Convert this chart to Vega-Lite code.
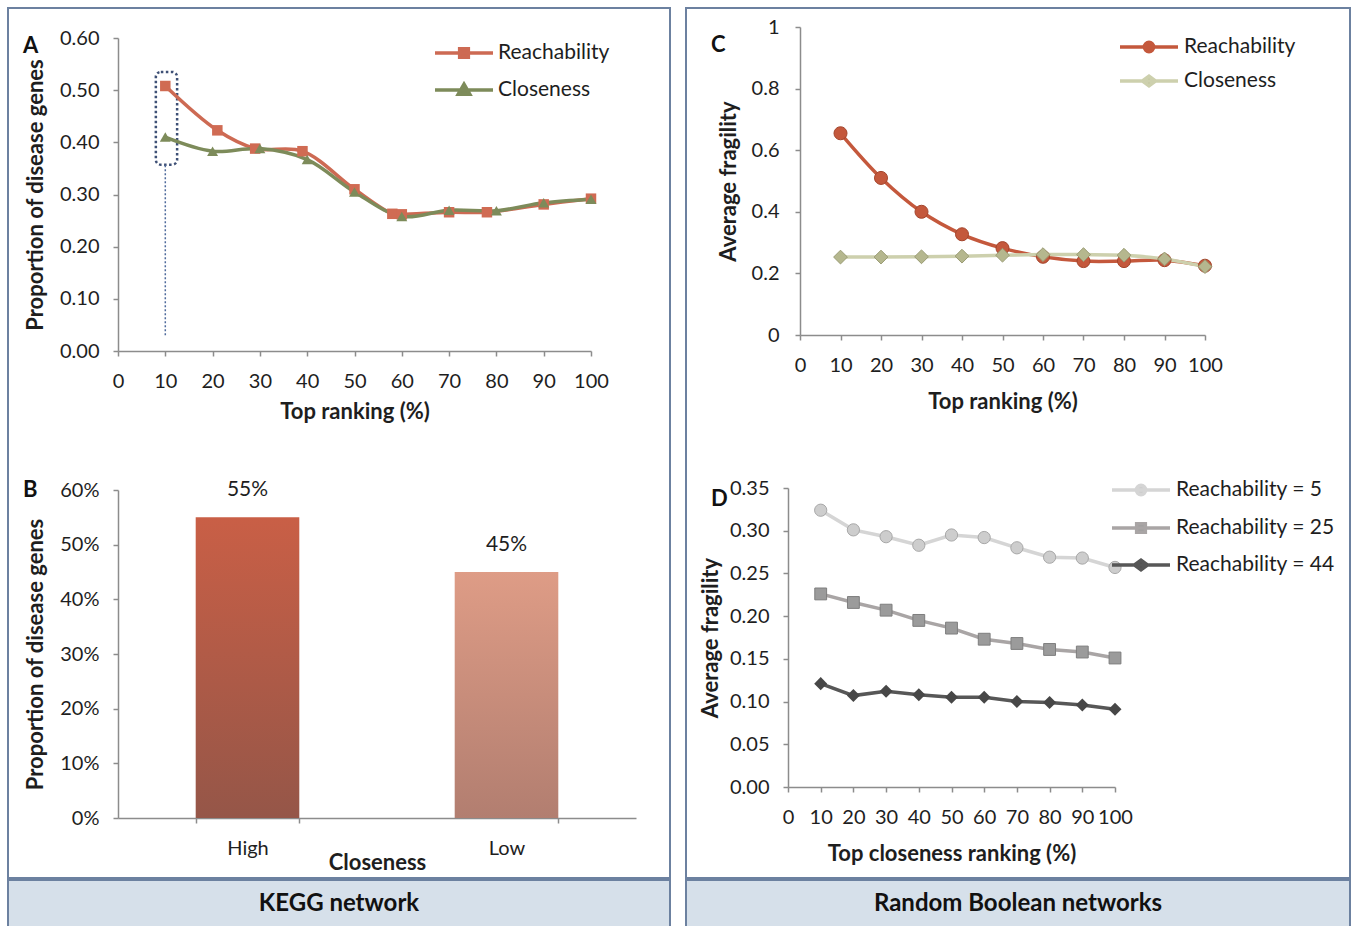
{
  "$schema": "https://vega.github.io/schema/vega-lite/v6.json",
  "padding": {"left": 7, "top": 7, "right": 0, "bottom": 0},
  "autosize": {"type": "pad"},
  "background": "white",
  "config": {
    "font": "Lato",
    "view": {"stroke": null},
    "axis": {"grid": false, "labelFont": "Lato", "labelFontSize": 20, "labelColor": "#1e1e1e", "titleFont": "Lato", "titleFontSize": 22, "titleFontWeight": "bold", "titleColor": "#1e1e1e", "domainColor": "#8c8c8c", "domainWidth": 1.5, "tickColor": "#8c8c8c", "tickWidth": 1.5, "tickSize": 5, "labelFlush": false, "labelOverlap": false, "labelPadding": 15},
    "legend": {"labelFont": "Lato", "labelFontSize": 21, "labelColor": "#1e1e1e", "padding": 0, "symbolSize": 841, "symbolStrokeWidth": 3.5, "symbolOpacity": 1}
  },
  "spacing": 14,
  "hconcat": [
    {
      "spacing": 0,
      "vconcat": [
        {
          "width": 662,
          "height": 870,
          "view": {"stroke": "#6c81a0", "strokeWidth": 2},
          "title": {"text": ["A", "B"], "lineHeight": 444, "anchor": "start", "frame": "group", "orient": "top", "baseline": "top", "offset": -494, "dx": 15, "fontSize": 22, "fontWeight": "bold", "font": "Lato", "color": "#111111"},
          "resolve": {"scale": {"x": "independent", "y": "independent", "color": "independent", "fill": "independent", "stroke": "independent", "shape": "independent"}, "axis": {"x": "independent", "y": "independent"}},
          "layer": [
            {
              "data": {"values": [
                {"rank": 10, "series": "Reachability", "value": 0.508},
                {"rank": 21, "series": "Reachability", "value": 0.423},
                {"rank": 29, "series": "Reachability", "value": 0.388},
                {"rank": 39, "series": "Reachability", "value": 0.383},
                {"rank": 50, "series": "Reachability", "value": 0.31},
                {"rank": 58, "series": "Reachability", "value": 0.263},
                {"rank": 60, "series": "Reachability", "value": 0.262},
                {"rank": 70, "series": "Reachability", "value": 0.266},
                {"rank": 78, "series": "Reachability", "value": 0.266},
                {"rank": 90, "series": "Reachability", "value": 0.281},
                {"rank": 100, "series": "Reachability", "value": 0.292},
                {"rank": 10, "series": "Closeness", "value": 0.41},
                {"rank": 20, "series": "Closeness", "value": 0.383},
                {"rank": 30, "series": "Closeness", "value": 0.388},
                {"rank": 40, "series": "Closeness", "value": 0.367},
                {"rank": 50, "series": "Closeness", "value": 0.305},
                {"rank": 60, "series": "Closeness", "value": 0.258},
                {"rank": 70, "series": "Closeness", "value": 0.27},
                {"rank": 80, "series": "Closeness", "value": 0.269},
                {"rank": 90, "series": "Closeness", "value": 0.284},
                {"rank": 100, "series": "Closeness", "value": 0.291}
              ]},
              "layer": [
                {
                  "data": {"values": [{"rank": 8.0, "rank2": 12.5, "value": 0.357, "value2": 0.535}]},
                  "mark": {"type": "rect", "filled": false, "color": "#3e5076", "strokeWidth": 2.5, "strokeDash": [2.5, 2.5], "cornerRadius": 5},
                  "encoding": {
                    "x": {"field": "rank", "type": "quantitative", "title": "Top ranking (%)"},
                    "x2": {"field": "rank2"},
                    "y": {"field": "value", "type": "quantitative", "title": "Proportion of disease genes"},
                    "y2": {"field": "value2"}
                  }
                },
                {
                  "data": {"values": [{"rank": 10, "value": 0.03, "value2": 0.357}]},
                  "mark": {"type": "rule", "color": "#4f6b9c", "strokeWidth": 1.5, "strokeDash": [2, 2]},
                  "encoding": {
                    "x": {"field": "rank", "type": "quantitative", "title": "Top ranking (%)"},
                    "y": {"field": "value", "type": "quantitative", "title": "Proportion of disease genes"},
                    "y2": {"field": "value2"}
                  }
                },
                {
                  "mark": {"type": "line", "interpolate": "catmull-rom", "strokeWidth": 3.5},
                  "encoding": {
                    "x": {"field": "rank", "type": "quantitative", "title": "Top ranking (%)",
                      "scale": {"domain": [0, 100], "range": [110, 583], "nice": false, "zero": false},
                      "axis": {"orient": "bottom", "offset": -527, "values": [0, 10, 20, 30, 40, 50, 60, 70, 80, 90, 100], "titleY": 60, "titleBaseline": "middle"}},
                    "y": {"field": "value", "type": "quantitative", "title": "Proportion of disease genes",
                      "scale": {"domain": [0, 0.6], "range": [343, 30], "nice": false},
                      "axis": {"orient": "left", "offset": -110, "values": [0, 0.1, 0.2, 0.3, 0.4, 0.5, 0.6], "format": ".2f", "labelPadding": 14, "titleX": -83, "titleBaseline": "middle"}},
                    "color": {"field": "series", "type": "nominal", "scale": {"domain": ["Reachability", "Closeness"], "range": ["#cd6a53", "#7d8b5a"]}, "legend": null},
                    "detail": {"field": "series"}
                  }
                },
                {
                  "transform": [{"filter": "datum.series == 'Reachability'"}],
                  "mark": {"type": "point", "shape": "square", "filled": true, "size": 110, "color": "#d06b53", "opacity": 1},
                  "encoding": {
                    "x": {"field": "rank", "type": "quantitative", "title": "Top ranking (%)"},
                    "y": {"field": "value", "type": "quantitative", "title": "Proportion of disease genes"}
                  }
                },
                {
                  "transform": [{"filter": "datum.series == 'Closeness'"}],
                  "mark": {"type": "point", "shape": "triangle-up", "filled": true, "size": 120, "color": "#7d8b5a", "opacity": 1},
                  "encoding": {
                    "x": {"field": "rank", "type": "quantitative", "title": "Top ranking (%)"},
                    "y": {"field": "value", "type": "quantitative", "title": "Proportion of disease genes"}
                  }
                }
              ]
            },
            {
              "data": {"values": [{"series": "Reachability"}, {"series": "Closeness"}]},
              "mark": {"type": "point", "filled": true, "opacity": 0},
              "encoding": {
                "fill": {"field": "series", "type": "nominal", "scale": {"domain": ["Reachability", "Closeness"], "range": ["#cd6a53", "#7d8b5a"]}, "legend": {"title": null, "orient": "none", "legendX": 439.5, "legendY": 28.5, "rowPadding": 9, "labelOffset": 17.5, "symbolOpacity": 1}},
                "stroke": {"field": "series", "type": "nominal", "scale": {"domain": ["Reachability", "Closeness"], "range": ["#cd6a53", "#7d8b5a"]}, "legend": {"title": null, "orient": "none", "legendX": 439.5, "legendY": 28.5, "rowPadding": 9, "labelOffset": 17.5, "symbolOpacity": 1}},
                "shape": {"field": "series", "type": "nominal", "scale": {"domain": ["Reachability", "Closeness"], "range": ["M-2,0L2,0M-0.3,-0.3L0.3,-0.3L0.3,0.3L-0.3,0.3Z", "M-2,0L2,0M0,-0.4L0.4,0.3L-0.4,0.3Z"]}, "legend": {"title": null, "orient": "none", "legendX": 439.5, "legendY": 28.5, "rowPadding": 9, "labelOffset": 17.5, "symbolOpacity": 1}}
              }
            },
            {
              "data": {"values": [{"cat": "High", "pct": 0.55}, {"cat": "Low", "pct": 0.45}]},
              "encoding": {
                "x": {"field": "cat", "type": "nominal", "title": "Closeness",
                  "scale": {"domain": ["High", "Low"], "range": [110, 628], "paddingInner": 0.6, "paddingOuter": 0.3},
                  "axis": {"orient": "bottom", "offset": -60, "tickBand": "extent", "labelAngle": 0, "titleY": 44, "titleBaseline": "middle"}},
                "y": {"field": "pct", "type": "quantitative", "title": "Proportion of disease genes",
                  "scale": {"domain": [0, 0.6], "range": [810, 482], "nice": false},
                  "axis": {"orient": "left", "offset": -110, "values": [0, 0.1, 0.2, 0.3, 0.4, 0.5, 0.6], "format": ".0%", "labelPadding": 14, "titleX": -83, "titleBaseline": "middle"}}
              },
              "layer": [
                {
                  "transform": [{"filter": "datum.cat == 'High'"}],
                  "mark": {"type": "bar", "color": {"gradient": "linear", "x1": 0, "y1": 0, "x2": 0, "y2": 1, "stops": [{"offset": 0, "color": "#c95f46"}, {"offset": 1, "color": "#955648"}]}}
                },
                {
                  "transform": [{"filter": "datum.cat == 'Low'"}],
                  "mark": {"type": "bar", "color": {"gradient": "linear", "x1": 0, "y1": 0, "x2": 0, "y2": 1, "stops": [{"offset": 0, "color": "#de9c86"}, {"offset": 1, "color": "#b27e70"}]}}
                },
                {
                  "mark": {"type": "text", "dy": -27, "fontSize": 21, "font": "Lato", "color": "#1e1e1e"},
                  "encoding": {"text": {"field": "pct", "type": "quantitative", "format": ".0%"}}
                }
              ]
            }
          ]
        },
        {
          "width": 662,
          "height": 48,
          "view": {"fill": "#d6e0ea", "stroke": "#6c81a0", "strokeWidth": 2},
          "data": {"values": [{"label": "KEGG network"}]},
          "mark": {"type": "text", "fontSize": 24, "fontWeight": "bold", "font": "Lato", "color": "#111111"},
          "encoding": {"text": {"field": "label"}}
        }
      ]
    },
    {
      "spacing": 0,
      "vconcat": [
        {
          "width": 664,
          "height": 870,
          "view": {"stroke": "#6c81a0", "strokeWidth": 2},
          "title": {"text": ["C", "D"], "lineHeight": 454, "anchor": "start", "frame": "group", "orient": "top", "baseline": "top", "offset": -503, "dx": 25, "fontSize": 22, "fontWeight": "bold", "font": "Lato", "color": "#111111"},
          "resolve": {"scale": {"x": "independent", "y": "independent", "color": "independent", "fill": "independent", "stroke": "independent", "shape": "independent"}, "axis": {"x": "independent", "y": "independent"}},
          "layer": [
            {
              "data": {"values": [
                {"rank": 10, "series": "Reachability", "value": 0.655},
                {"rank": 20, "series": "Reachability", "value": 0.51},
                {"rank": 30, "series": "Reachability", "value": 0.4},
                {"rank": 40, "series": "Reachability", "value": 0.327},
                {"rank": 50, "series": "Reachability", "value": 0.282},
                {"rank": 60, "series": "Reachability", "value": 0.254},
                {"rank": 70, "series": "Reachability", "value": 0.24},
                {"rank": 80, "series": "Reachability", "value": 0.24},
                {"rank": 90, "series": "Reachability", "value": 0.243},
                {"rank": 100, "series": "Reachability", "value": 0.225},
                {"rank": 10, "series": "Closeness", "value": 0.253},
                {"rank": 20, "series": "Closeness", "value": 0.253},
                {"rank": 30, "series": "Closeness", "value": 0.254},
                {"rank": 40, "series": "Closeness", "value": 0.256},
                {"rank": 50, "series": "Closeness", "value": 0.259},
                {"rank": 60, "series": "Closeness", "value": 0.261},
                {"rank": 70, "series": "Closeness", "value": 0.261},
                {"rank": 80, "series": "Closeness", "value": 0.259},
                {"rank": 90, "series": "Closeness", "value": 0.247},
                {"rank": 100, "series": "Closeness", "value": 0.222}
              ]},
              "encoding": {
                "x": {"field": "rank", "type": "quantitative", "title": "Top ranking (%)",
                  "scale": {"domain": [0, 100], "range": [114, 519], "nice": false, "zero": false},
                  "axis": {"orient": "bottom", "offset": -543, "values": [0, 10, 20, 30, 40, 50, 60, 70, 80, 90, 100], "titleY": 66, "titleBaseline": "middle"}},
                "y": {"field": "value", "type": "quantitative", "title": "Average fragility",
                  "scale": {"domain": [0, 1], "range": [327, 19], "nice": false},
                  "axis": {"orient": "left", "offset": -114, "values": [0, 0.2, 0.4, 0.6, 0.8, 1], "format": "~g", "labelPadding": 16, "titleX": -72, "titleBaseline": "middle"}}
              },
              "layer": [
                {
                  "mark": {"type": "line", "interpolate": "catmull-rom", "strokeWidth": 3.5},
                  "encoding": {
                    "color": {"field": "series", "type": "nominal", "scale": {"domain": ["Reachability", "Closeness"], "range": ["#c4583c", "#cdd0ad"]}, "legend": null}
                  }
                },
                {
                  "transform": [{"filter": "datum.series == 'Reachability'"}],
                  "mark": {"type": "point", "shape": "circle", "filled": true, "size": 170, "color": "#c4583c", "stroke": "#a4452c", "strokeWidth": 1, "opacity": 1}
                },
                {
                  "transform": [{"filter": "datum.series == 'Closeness'"}],
                  "mark": {"type": "point", "shape": "diamond", "filled": true, "size": 190, "color": "#b5b78e", "stroke": "#9a9c74", "strokeWidth": 1, "opacity": 1}
                }
              ]
            },
            {
              "data": {"values": [{"series": "Reachability"}, {"series": "Closeness"}]},
              "mark": {"type": "point", "filled": true, "opacity": 0},
              "encoding": {
                "fill": {"field": "series", "type": "nominal", "scale": {"domain": ["Reachability", "Closeness"], "range": ["#c4583c", "#b5b78e"]}, "legend": {"title": null, "orient": "none", "legendX": 446.5, "legendY": 22.5, "rowPadding": 5, "labelOffset": 18.5, "symbolOpacity": 1}},
                "stroke": {"field": "series", "type": "nominal", "scale": {"domain": ["Reachability", "Closeness"], "range": ["#c4583c", "#cdd0ad"]}, "legend": {"title": null, "orient": "none", "legendX": 446.5, "legendY": 22.5, "rowPadding": 5, "labelOffset": 18.5, "symbolOpacity": 1}},
                "shape": {"field": "series", "type": "nominal", "scale": {"domain": ["Reachability", "Closeness"], "range": ["M-2,0L2,0M-0.32,0A0.32,0.32 0 1,0 0.32,0A0.32,0.32 0 1,0 -0.32,0Z", "M-2,0L2,0M-0.45,0L0,-0.33L0.45,0L0,0.33Z"]}, "legend": {"title": null, "orient": "none", "legendX": 446.5, "legendY": 22.5, "rowPadding": 5, "labelOffset": 18.5, "symbolOpacity": 1}}
              }
            },
            {
              "data": {"values": [
                {"rank": 10, "series": "Reachability = 5", "value": 0.324},
                {"rank": 20, "series": "Reachability = 5", "value": 0.301},
                {"rank": 30, "series": "Reachability = 5", "value": 0.293},
                {"rank": 40, "series": "Reachability = 5", "value": 0.283},
                {"rank": 50, "series": "Reachability = 5", "value": 0.295},
                {"rank": 60, "series": "Reachability = 5", "value": 0.292},
                {"rank": 70, "series": "Reachability = 5", "value": 0.28},
                {"rank": 80, "series": "Reachability = 5", "value": 0.269},
                {"rank": 90, "series": "Reachability = 5", "value": 0.268},
                {"rank": 100, "series": "Reachability = 5", "value": 0.257},
                {"rank": 10, "series": "Reachability = 25", "value": 0.226},
                {"rank": 20, "series": "Reachability = 25", "value": 0.216},
                {"rank": 30, "series": "Reachability = 25", "value": 0.207},
                {"rank": 40, "series": "Reachability = 25", "value": 0.195},
                {"rank": 50, "series": "Reachability = 25", "value": 0.186},
                {"rank": 60, "series": "Reachability = 25", "value": 0.173},
                {"rank": 70, "series": "Reachability = 25", "value": 0.168},
                {"rank": 80, "series": "Reachability = 25", "value": 0.161},
                {"rank": 90, "series": "Reachability = 25", "value": 0.158},
                {"rank": 100, "series": "Reachability = 25", "value": 0.151},
                {"rank": 10, "series": "Reachability = 44", "value": 0.121},
                {"rank": 20, "series": "Reachability = 44", "value": 0.107},
                {"rank": 30, "series": "Reachability = 44", "value": 0.112},
                {"rank": 40, "series": "Reachability = 44", "value": 0.108},
                {"rank": 50, "series": "Reachability = 44", "value": 0.105},
                {"rank": 60, "series": "Reachability = 44", "value": 0.105},
                {"rank": 70, "series": "Reachability = 44", "value": 0.1},
                {"rank": 80, "series": "Reachability = 44", "value": 0.099},
                {"rank": 90, "series": "Reachability = 44", "value": 0.096},
                {"rank": 100, "series": "Reachability = 44", "value": 0.091}
              ]},
              "encoding": {
                "x": {"field": "rank", "type": "quantitative", "title": "Top closeness ranking (%)",
                  "scale": {"domain": [0, 100], "range": [102, 429], "nice": false, "zero": false},
                  "axis": {"orient": "bottom", "offset": -91, "values": [0, 10, 20, 30, 40, 50, 60, 70, 80, 90, 100], "titleY": 66, "titleBaseline": "middle"}},
                "y": {"field": "value", "type": "quantitative", "title": "Average fragility",
                  "scale": {"domain": [0, 0.35], "range": [779, 480], "nice": false},
                  "axis": {"orient": "left", "offset": -102, "values": [0, 0.05, 0.1, 0.15, 0.2, 0.25, 0.3, 0.35], "format": ".2f", "labelPadding": 14, "titleX": -78, "titleBaseline": "middle"}}
              },
              "layer": [
                {
                  "mark": {"type": "line", "strokeWidth": 3.5},
                  "encoding": {
                    "color": {"field": "series", "type": "nominal", "scale": {"domain": ["Reachability = 5", "Reachability = 25", "Reachability = 44"], "range": ["#d5d5d5", "#a9a5a5", "#575757"]}, "legend": null}
                  }
                },
                {
                  "transform": [{"filter": "datum.series == 'Reachability = 5'"}],
                  "mark": {"type": "point", "shape": "circle", "filled": true, "size": 150, "color": "#cdcdcd", "stroke": "#a8a8a8", "strokeWidth": 1, "opacity": 1}
                },
                {
                  "transform": [{"filter": "datum.series == 'Reachability = 25'"}],
                  "mark": {"type": "point", "shape": "square", "filled": true, "size": 140, "color": "#9b9b9b", "stroke": "#7e7e7e", "strokeWidth": 1, "opacity": 1}
                },
                {
                  "transform": [{"filter": "datum.series == 'Reachability = 44'"}],
                  "mark": {"type": "point", "shape": "diamond", "filled": true, "size": 170, "color": "#474747", "opacity": 1}
                }
              ]
            },
            {
              "data": {"values": [{"series": "Reachability = 5"}, {"series": "Reachability = 25"}, {"series": "Reachability = 44"}]},
              "mark": {"type": "point", "filled": true, "opacity": 0},
              "encoding": {
                "fill": {"field": "series", "type": "nominal", "scale": {"domain": ["Reachability = 5", "Reachability = 25", "Reachability = 44"], "range": ["#cdcdcd", "#9b9b9b", "#474747"]}, "legend": {"title": null, "orient": "none", "legendX": 438.5, "legendY": 465.5, "rowPadding": 9, "labelOffset": 18.5, "symbolOpacity": 1}},
                "stroke": {"field": "series", "type": "nominal", "scale": {"domain": ["Reachability = 5", "Reachability = 25", "Reachability = 44"], "range": ["#d5d5d5", "#a9a5a5", "#575757"]}, "legend": {"title": null, "orient": "none", "legendX": 438.5, "legendY": 465.5, "rowPadding": 9, "labelOffset": 18.5, "symbolOpacity": 1}},
                "shape": {"field": "series", "type": "nominal", "scale": {"domain": ["Reachability = 5", "Reachability = 25", "Reachability = 44"], "range": ["M-2,0L2,0M-0.32,0A0.32,0.32 0 1,0 0.32,0A0.32,0.32 0 1,0 -0.32,0Z", "M-2,0L2,0M-0.3,-0.3L0.3,-0.3L0.3,0.3L-0.3,0.3Z", "M-2,0L2,0M-0.45,0L0,-0.33L0.45,0L0,0.33Z"]}, "legend": {"title": null, "orient": "none", "legendX": 438.5, "legendY": 465.5, "rowPadding": 9, "labelOffset": 18.5, "symbolOpacity": 1}}
              }
            }
          ]
        },
        {
          "width": 664,
          "height": 48,
          "view": {"fill": "#d6e0ea", "stroke": "#6c81a0", "strokeWidth": 2},
          "data": {"values": [{"label": "Random Boolean networks"}]},
          "mark": {"type": "text", "fontSize": 24, "fontWeight": "bold", "font": "Lato", "color": "#111111"},
          "encoding": {"text": {"field": "label"}}
        }
      ]
    }
  ]
}
